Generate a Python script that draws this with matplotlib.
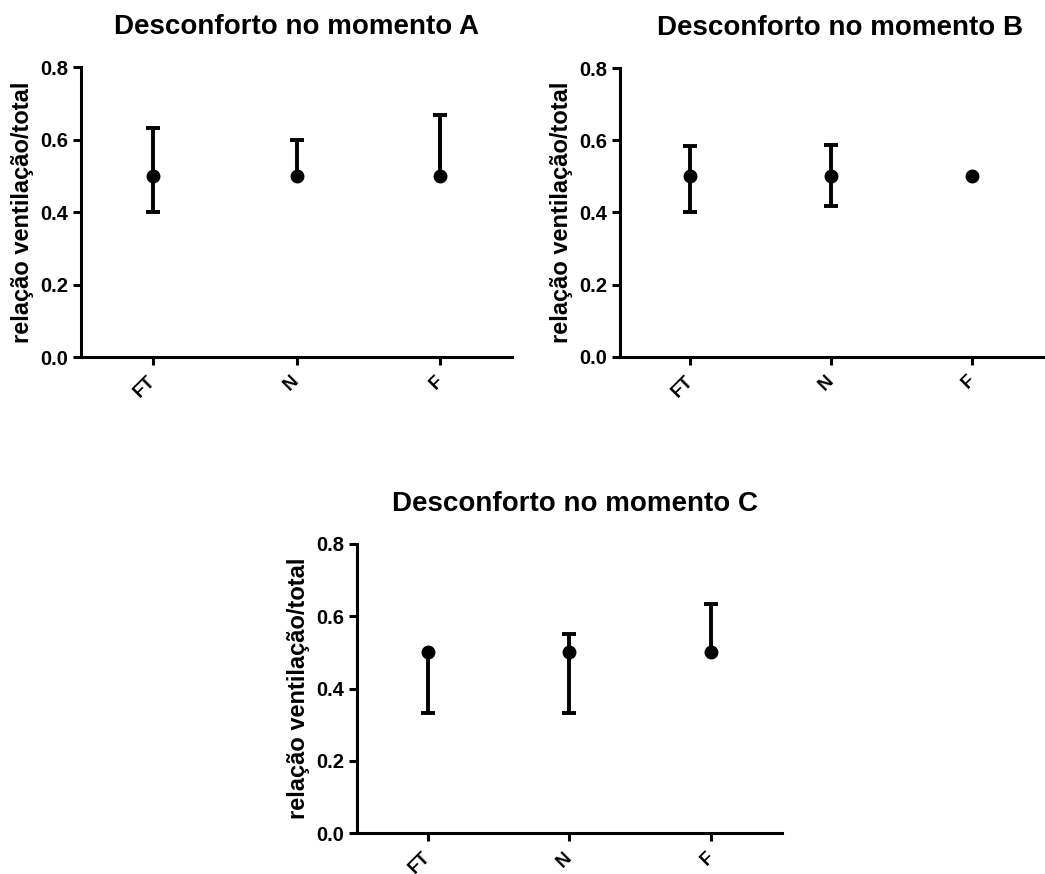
import numpy as np
import matplotlib
matplotlib.use("Agg")
import matplotlib.pyplot as plt

plt.rcParams['font.family'] = ['Liberation Sans', 'DejaVu Sans']
plt.rcParams['font.weight'] = 'bold'

# groups and values (median with lower / upper limits)
groups = ["FT", "N", "F"]
titles = ["Desconforto no momento A", "Desconforto no momento B", "Desconforto no momento C"]
ylabel = "relação ventilação/total"

med_a = [0.5, 0.5, 0.5]
low_a = [0.4, 0.5, 0.5]
high_a = [0.633, 0.6, 0.667]

med_b = [0.5, 0.5, 0.5]
low_b = [0.4, 0.417, 0.5]
high_b = [0.583, 0.587, 0.5]

med_c = [0.5, 0.5, 0.5]
low_c = [0.333, 0.333, 0.5]
high_c = [0.5, 0.55, 0.633]

yticks = [0.0, 0.2, 0.4, 0.6, 0.8]

fig = plt.figure(figsize=(10.45, 8.74), dpi=100)

# axes boxes in figure fraction, title x offsets
boxes = [
    [0.0775, 0.5915, 0.4125, 0.3318],
    [0.5933, 0.5919, 0.4047, 0.3300],
    [0.3416, 0.0466, 0.4067, 0.3310],
]
title_x = [0.5, 0.52, 0.513]
data = [(med_a, low_a, high_a), (med_b, low_b, high_b), (med_c, low_c, high_c)]

for box, title, tx, (med, low, high) in zip(boxes, titles, title_x, data):
    ax = fig.add_axes(box)
    x = np.arange(len(groups))
    med = np.array(med)
    low = np.array(low)
    high = np.array(high)
    # error lines
    ax.vlines(x, low, high, color='black', lw=2.8, zorder=2)
    # caps only where the range goes past the median
    lm = low < med
    hm = high > med
    ax.plot(x[lm], low[lm], ls='none', marker='_', ms=10, mew=2.8, color='black', zorder=2)
    ax.plot(x[hm], high[hm], ls='none', marker='_', ms=10, mew=2.8, color='black', zorder=2)
    ax.plot(x, med, ls='none', marker='o', ms=9, color='black', zorder=3)
    ax.set_xlim(-0.5, 2.5)
    ax.set_ylim(0, 0.8)
    ax.set_yticks(yticks)
    ax.set_yticklabels(["%.1f" % v for v in yticks], fontsize=14.5, fontweight='bold')
    ax.set_xticks(x)
    ax.set_xticklabels(groups, rotation=45, ha='right', va='center', rotation_mode='anchor',
                       fontsize=13.5, fontweight='bold')
    ax.set_ylabel(ylabel, fontsize=17, fontweight='bold', labelpad=5)
    ax.set_title(title, fontsize=20, fontweight='bold', pad=24, x=tx)
    for s in ['top', 'right']:
        ax.spines[s].set_visible(False)
    for s in ['left', 'bottom']:
        ax.spines[s].set_linewidth(2.2)
    ax.tick_params(width=2.2, length=6, direction='out')
    ax.tick_params(axis='y', pad=3)
    ax.tick_params(axis='x', pad=9.5)
    ax.spines['left'].set_bounds(0, 0.8)

fig.savefig("out.png", dpi=100)
